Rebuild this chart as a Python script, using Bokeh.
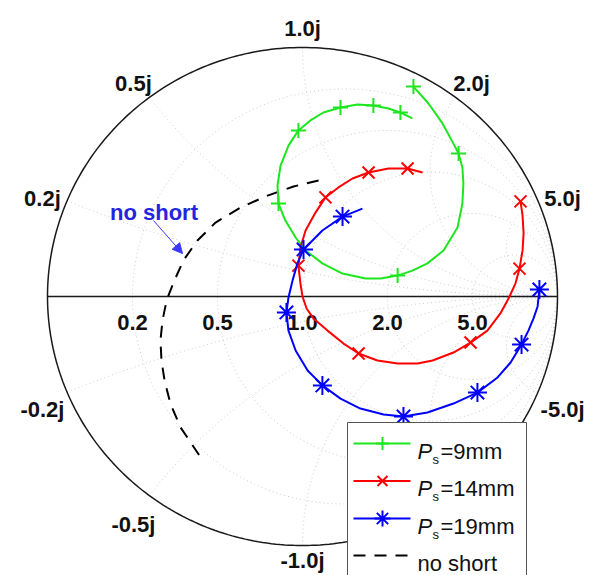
import numpy as np
from bokeh.plotting import figure
from bokeh.models import Range1d, Arrow, NormalHead, ColumnDataSource
from bokeh.core.properties import value
from bokeh.embed import file_html
from bokeh.resources import INLINE

# ---------------- data (reflection coefficient: real / imaginary part) ----------------
ps9_re = [0.435, 0.494, 0.549, 0.592, 0.612, 0.627, 0.631, 0.627, 0.608, 0.553, 0.490,
          0.431, 0.373, 0.306, 0.247, 0.157, 0.078, 0.012, -0.027, -0.067, -0.094, -0.098,
          -0.086, -0.055, -0.016, 0.031, 0.082, 0.149, 0.216, 0.278, 0.337, 0.384, 0.431]
ps9_im = [0.843, 0.775, 0.695, 0.614, 0.574, 0.518, 0.454, 0.373, 0.277, 0.185, 0.133,
          0.104, 0.084, 0.072, 0.072, 0.092, 0.133, 0.185, 0.237, 0.305, 0.373, 0.446,
          0.526, 0.606, 0.667, 0.707, 0.739, 0.759, 0.771, 0.767, 0.755, 0.739, 0.715]
ps9_marks = [0, 4, 12, 20, 24, 27, 29, 31]

ps14_re = [0.471, 0.412, 0.337, 0.259, 0.196, 0.141, 0.090, 0.051, 0.012, -0.008, -0.016,
           -0.008, 0.000, 0.016, 0.043, 0.098, 0.161, 0.220, 0.294, 0.373, 0.451, 0.510,
           0.592, 0.659, 0.725, 0.776, 0.808, 0.835, 0.851, 0.863, 0.867, 0.863, 0.855]
ps14_im = [0.498, 0.514, 0.514, 0.498, 0.474, 0.438, 0.398, 0.337, 0.265, 0.197, 0.124,
           0.052, 0.000, -0.048, -0.088, -0.137, -0.189, -0.229, -0.257, -0.269, -0.269, -0.257,
           -0.225, -0.185, -0.137, -0.068, -0.008, 0.052, 0.112, 0.185, 0.253, 0.325, 0.382]
ps14_marks = [1, 3, 6, 10, 17, 23, 28, 32]

ps19_re = [0.235, 0.157, 0.078, 0.004, -0.020, -0.039, -0.055, -0.063, -0.055, -0.027, 0.020,
           0.078, 0.149, 0.227, 0.318, 0.396, 0.490, 0.592, 0.686, 0.765, 0.816, 0.859,
           0.886, 0.906, 0.922, 0.929]
ps19_im = [0.353, 0.321, 0.265, 0.189, 0.133, 0.064, -0.004, -0.064, -0.137, -0.217, -0.297,
           -0.357, -0.410, -0.450, -0.474, -0.482, -0.466, -0.430, -0.386, -0.325, -0.265, -0.193,
           -0.137, -0.088, -0.040, 0.028]
ps19_marks = [1, 3, 7, 11, 15, 18, 21, 25]

noshort_re = [0.063, -0.035, -0.145, -0.243, -0.341, -0.412, -0.467, -0.506, -0.533, -0.549,
              -0.557, -0.553, -0.541, -0.518, -0.478, -0.404]
noshort_im = [0.466, 0.442, 0.402, 0.357, 0.297, 0.225, 0.145, 0.056, -0.016, -0.096,
              -0.177, -0.257, -0.337, -0.430, -0.526, -0.639]

r_grid = [0.2, 0.5, 1.0, 2.0, 5.0]
r_labels = ["0.2", "0.5", "1.0", "2.0", "5.0"]
x_grid = [0.2, 0.5, 1.0, 2.0, 5.0, -0.2, -0.5, -1.0, -2.0, -5.0]
x_labels = ["0.2j", "0.5j", "1.0j", "2.0j", "5.0j", "-0.2j", "-0.5j", "-1.0j", "-2.0j", "-5.0j"]

# ---------------- page geometry ----------------
W, H = 599, 575
CX, CY, SX, SY = 302, 296, 255, 249   # chart centre / radius in pixels


def dx(X):
    return (X - CX) / SX


def dy(Y):
    return (CY - Y) / SY


FONT = value("Liberation Sans")
GREEN, RED, BLUE = "#1ee61e", "#ff0000", "#0000ff"

p = figure(width=W, height=H, x_range=Range1d(dx(0), dx(W)),
           y_range=Range1d(dy(H), dy(0)), output_backend="svg",
           toolbar_location=None, x_axis_location=None, y_axis_location=None,
           min_border=0)
p.grid.visible = False
p.outline_line_color = None
p.background_fill_color = "white"
p.border_fill_color = "white"

# ---------------- Smith grid ----------------
t = np.linspace(0, 2 * np.pi, 361)
for r in r_grid:
    c, a = r / (1 + r), 1 / (1 + r)
    p.line(c + a * np.cos(t), a * np.sin(t), line_color="#cccccc", line_width=1,
           line_dash="1 3")
s = np.linspace(0, 0.995, 400)
rr = s / (1 - s)
for xv in x_grid:
    z = rr + 1j * xv
    g = (z - 1) / (z + 1)
    p.line(g.real, g.imag, line_color="#cccccc", line_width=1, line_dash="1 3")

p.line(np.cos(t), np.sin(t), line_color="#1a1a1a", line_width=1.5)
p.line([-1, 1], [0, 0], line_color="#1a1a1a", line_width=1.5)

# ---------------- labels ----------------
rl = ColumnDataSource(dict(x=[(r - 1) / (r + 1) for r in r_grid], y=[dy(322)] * len(r_grid),
                           t=r_labels))
p.text("x", "y", text="t", source=rl, text_font=FONT, text_font_style="bold",
       text_font_size="22px", text_align="center", text_baseline="alphabetic",
       text_color="#111111")
gx = [((1j * v - 1) / (1j * v + 1)).real * 1.105 for v in x_grid]
gy = [max(((1j * v - 1) / (1j * v + 1)).imag * 1.105 - 7.5 / SY, dy(H - 15)) for v in x_grid]
xl = ColumnDataSource(dict(x=gx, y=gy, t=x_labels))
p.text("x", "y", text="t", source=xl, text_font=FONT, text_font_style="bold",
       text_font_size="22px", text_align="center", text_baseline="alphabetic",
       text_color="#111111")

# ---------------- curves ----------------
p.line(noshort_re, noshort_im, line_color="black", line_width=2, line_dash="12 9")

series = [(ps9_re, ps9_im, ps9_marks, GREEN, "cross", 15),
          (ps14_re, ps14_im, ps14_marks, RED, "x", 17),
          (ps19_re, ps19_im, ps19_marks, BLUE, "asterisk", 19)]
for re_, im_, mk, col, marker, size in series:
    p.line(re_, im_, line_color=col, line_width=2)
    p.scatter([re_[i] for i in mk], [im_[i] for i in mk], marker=marker, size=size,
              line_color=col, line_width=2)

# annotation
p.text([dx(153.5)], [dy(212)], text=["no short"], text_font=FONT, text_font_style="bold",
       text_font_size="22px", text_align="center", text_baseline="alphabetic",
       text_color="#2424e0")
p.add_layout(Arrow(x_start=dx(153), y_start=dy(220), x_end=dx(182), y_end=dy(253),
                   line_color="#3a3aff", line_width=1,
                   end=NormalHead(size=10, fill_color="#3a3aff", line_color="#3a3aff")))

# ---------------- legend (drawn) ----------------
p.quad(left=dx(347), right=dx(526), top=dy(422), bottom=dy(620), fill_color="white",
       line_color="#555555", line_width=1)
rows = [443, 480.5, 518, 555]
legend_items = [(GREEN, "cross", 13, "=9mm"), (RED, "x", 14, "=14mm"),
                (BLUE, "asterisk", 16, "=19mm")]
for (col, marker, size, lab), yr in zip(legend_items, rows[:3]):
    p.line([dx(353), dx(410)], [dy(yr), dy(yr)], line_color=col, line_width=2)
    p.scatter([dx(382)], [dy(yr)], marker=marker, size=size, line_color=col, line_width=2)
    p.text([dx(417)], [dy(yr + 7.5)], text=["P"], text_font=FONT, text_font_style="italic",
           text_font_size="22px", text_baseline="alphabetic", text_color="#111111")
    p.text([dx(432)], [dy(yr + 15.5)], text=["s"], text_font=FONT,
           text_font_size="13px", text_baseline="alphabetic", text_color="#111111")
    p.text([dx(440)], [dy(yr + 7.5)], text=[lab], text_font=FONT,
           text_font_size="22px", text_baseline="alphabetic", text_color="#111111")
p.line([dx(353), dx(410)], [dy(rows[3]), dy(rows[3])], line_color="black", line_width=2,
       line_dash="12 9")
p.text([dx(417)], [dy(rows[3] + 7.5)], text=["no short"], text_font=FONT,
       text_font_size="22px", text_baseline="alphabetic", text_color="#111111")

open("out.html", "w").write(file_html(p, INLINE))
